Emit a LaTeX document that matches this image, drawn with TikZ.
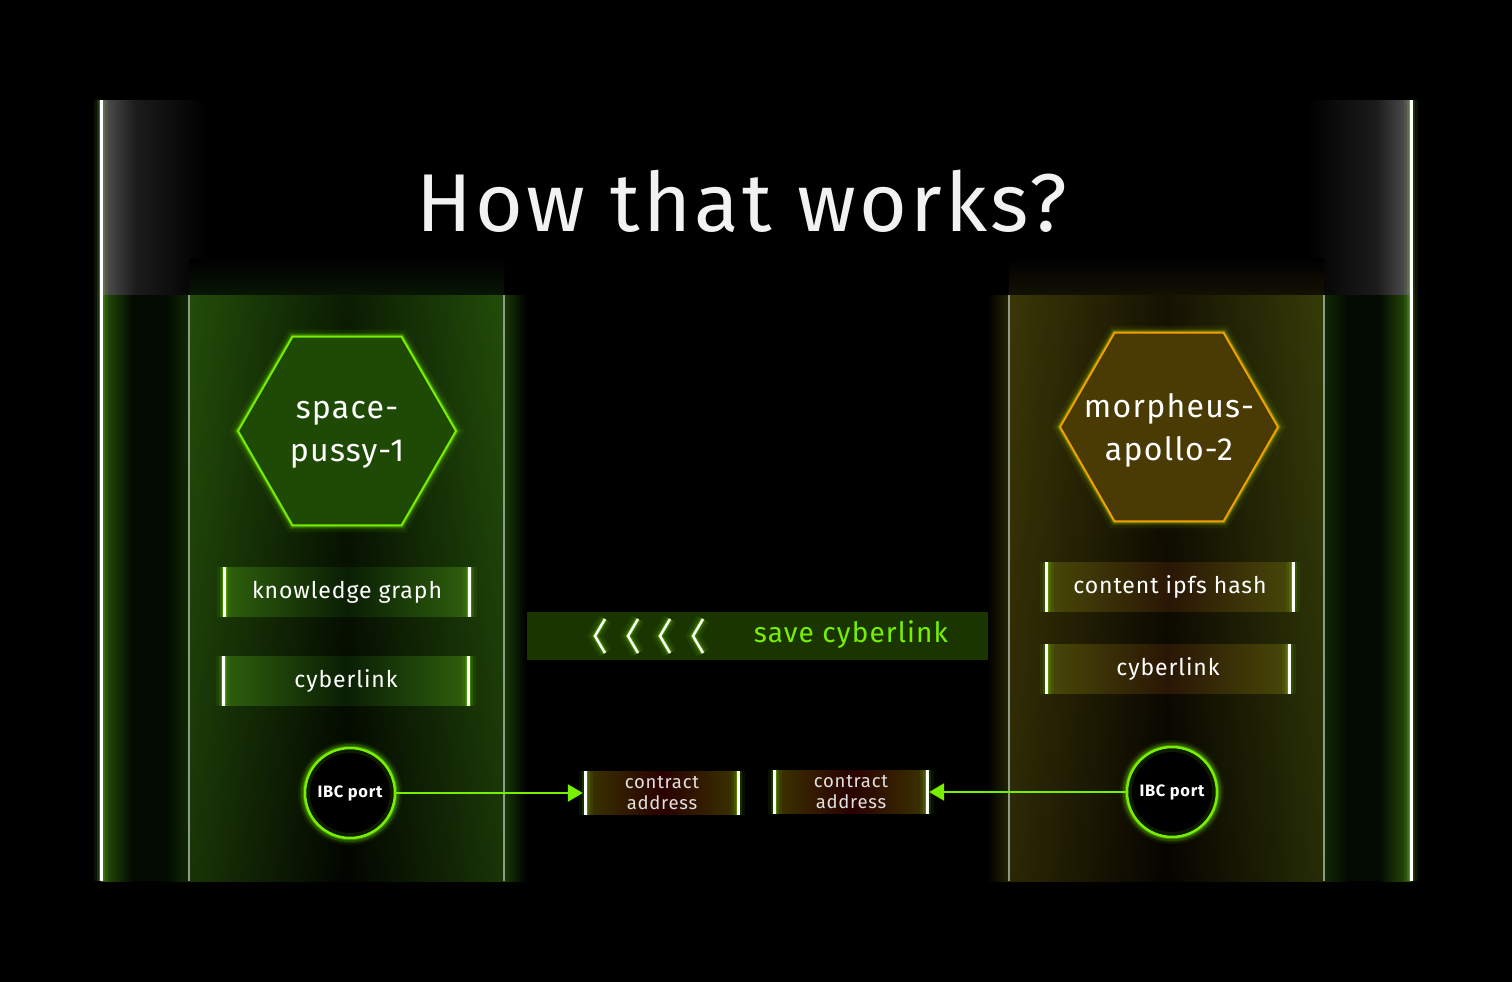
\documentclass[tikz,border=0pt]{standalone}
\usepackage{fontspec}
\setmainfont{Fira Sans}[LetterSpace=4]
\usetikzlibrary{positioning,arrows.meta,shapes.geometric}

\definecolor{lime}{HTML}{76F000}
\definecolor{hexgreen}{HTML}{1E4A06}
\definecolor{hexolive}{HTML}{4A3A04}
\definecolor{amber}{HTML}{F2A000}
\definecolor{fog}{HTML}{555555}
\definecolor{fogmid}{HTML}{1C1C1C}
\definecolor{stripgreen}{HTML}{2A560A}
\definecolor{deepgreen}{HTML}{040B02}
\definecolor{colgreen}{HTML}{173A06}
\definecolor{coldark}{HTML}{040A01}
\definecolor{edgegreen}{HTML}{2E600C}
\definecolor{boxmid}{HTML}{0A1E04}
\definecolor{cololive}{HTML}{2C2606}
\definecolor{deepbrown}{HTML}{0E0801}
\definecolor{edgeolive}{HTML}{484808}
\definecolor{boxbrown}{HTML}{2A1605}
\definecolor{hazegreen}{HTML}{081504}
\definecolor{hazeolive}{HTML}{131103}
\definecolor{barbg}{HTML}{1B3501}
\definecolor{wine}{HTML}{2A0000}
\definecolor{rustolive}{HTML}{3A3400}
\definecolor{sepgray}{HTML}{8E9A88}

\tikzset{
  glow/.style={preaction={draw=#1, line width=14pt, opacity=.07},
               preaction={draw=#1, line width=8pt, opacity=.14},
               preaction={draw=#1, line width=4.5pt, opacity=.3}},
  hexcell/.style={regular polygon, regular polygon sides=6, minimum size=218pt,
                  inner sep=-30pt, line width=2pt, text=white, align=center,
                  text depth=0pt, font=\fontsize{32}{43}\selectfont},
  ibcport/.style={circle, minimum size=90pt, inner sep=0pt, fill=black, draw=lime,
                  line width=2.5pt, glow=lime,
                  postaction={draw=lime, line width=10pt, opacity=.12},
                  text=white, font=\fontsize{16.5}{18}\selectfont\bfseries},
  fieldbox/.style={minimum width=245pt, minimum height=49pt, inner sep=0pt,
                   text=white, font=\fontsize{23}{26}\selectfont},
  greenfield/.style={fieldbox, left color=edgegreen, right color=edgegreen, middle color=boxmid},
  olivefield/.style={fieldbox, left color=edgeolive, right color=edgeolive, middle color=boxbrown},
  addrbox/.style={minimum width=152pt, minimum height=43pt, inner sep=0pt,
                  text=white!88!black, align=center,
                  font=\fontsize{18.5}{21}\selectfont,
                  left color=rustolive, right color=rustolive, middle color=wine},
  endbar/.style={draw=white, line width=3pt, glow=lime},
  ibclink/.style={draw=lime, line width=2.5pt, -{Triangle[length=15pt, width=17pt]}},
}

\begin{document}
\begin{tikzpicture}[x=1pt, y=-1pt]
  \useasboundingbox (0,0) rectangle (1512,982);
  \fill[black] (0,0) rectangle (1512,982);

  % top band
  \shade[left color=fog, right color=fogmid] (101,100) rectangle (135,295);
  \shade[left color=fogmid, right color=black] (135,100) rectangle (205,295);
  \shade[left color=black, right color=fogmid] (1307,100) rectangle (1377,295);
  \shade[left color=fogmid, right color=fog] (1377,100) rectangle (1411,295);
  \shade[top color=black, bottom color=hazegreen] (189,258) rectangle (504,295);
  \shade[top color=black, bottom color=hazeolive] (1009,258) rectangle (1324,295);

  % outer strips
  \shade[left color=stripgreen, right color=deepgreen] (101,295) rectangle (132,881);
  \fill[deepgreen] (132,295) rectangle (166,881);
  \shade[left color=deepgreen, right color=colgreen!70!black] (166,295) rectangle (189,881);
  \shade[left color=colgreen!70!black, right color=deepgreen] (1324,295) rectangle (1347,881);
  \fill[deepgreen] (1347,295) rectangle (1380,881);
  \shade[left color=deepgreen, right color=stripgreen] (1380,295) rectangle (1411,881);

  % chain columns
  \shade[top color=colgreen, bottom color=coldark] (189,295) rectangle (504,881);
  \shade[left color=edgegreen, right color=edgegreen, middle color=black, opacity=.5]
    (189,295) rectangle (504,881);
  \shade[top color=cololive, bottom color=deepbrown] (1009,295) rectangle (1324,881);
  \shade[left color=edgeolive, right color=edgeolive!60!edgegreen, middle color=black, opacity=.5]
    (1009,295) rectangle (1324,881);
  \shade[left color=colgreen, right color=black] (504,295) rectangle (526,881);
  \shade[left color=black, right color=edgeolive!50!black] (987,295) rectangle (1009,881);

  % separators
  \foreach \sx in {189,504,1009,1324}
    \draw[sepgray, line width=1.2pt] (\sx,295) -- (\sx,881);
  \foreach \sx in {101,1411}
    \draw[white, line width=3pt, glow=lime!70!white] (\sx,100) -- (\sx,881);

  % title
  \node[text=white!95!black, font=\fontsize{82}{90}\selectfont] (title) at (742,201) {How that works?};

  % chains
  \node[hexcell, fill=hexgreen, draw=lime, glow=lime] (spacepussy) at (347,431) {space-\\pussy-1};
  \node[hexcell, fill=hexolive, draw=amber, glow=lime!60!amber] (morpheus) at (1169,427) {morpheus-\\apollo-2};

  \node[greenfield] (kg) at (347,592) {knowledge graph};
  \node[greenfield] (clA) at (346,681) {cyberlink};
  \node[olivefield, minimum width=246pt] (ipfs) at (1170,587) {content ipfs hash};
  \node[olivefield, minimum width=242pt] (clB) at (1168,669) {cyberlink};

  % relay
  \fill[barbg] (527,612) rectangle (988,660);
  \foreach \cx in {595,628,660,693}
    \draw[white, line width=2.5pt, glow=lime] (\cx+10,619) -- (\cx,636) -- (\cx+10,653);
  \node[text=lime, font=\fontsize{28}{32}\selectfont] (save) at (851,635) {save cyberlink};

  % ports
  \node[ibcport] (ibcA) at (350,793) {IBC port};
  \node[ibcport] (ibcB) at (1172,792) {IBC port};
  \node[addrbox] (caA) at (662,793) {contract\\address};
  \node[addrbox] (caB) at (851,792) {contract\\address};

  \foreach \n in {kg,clA,ipfs,clB,caA,caB}
    \draw[endbar] (\n.north west) -- (\n.south west) (\n.north east) -- (\n.south east);

  \draw[ibclink, shorten >=3pt] (ibcA) -- (caA);
  \draw[ibclink, shorten >=2pt] (ibcB) -- (caB);
\end{tikzpicture}
\end{document}
